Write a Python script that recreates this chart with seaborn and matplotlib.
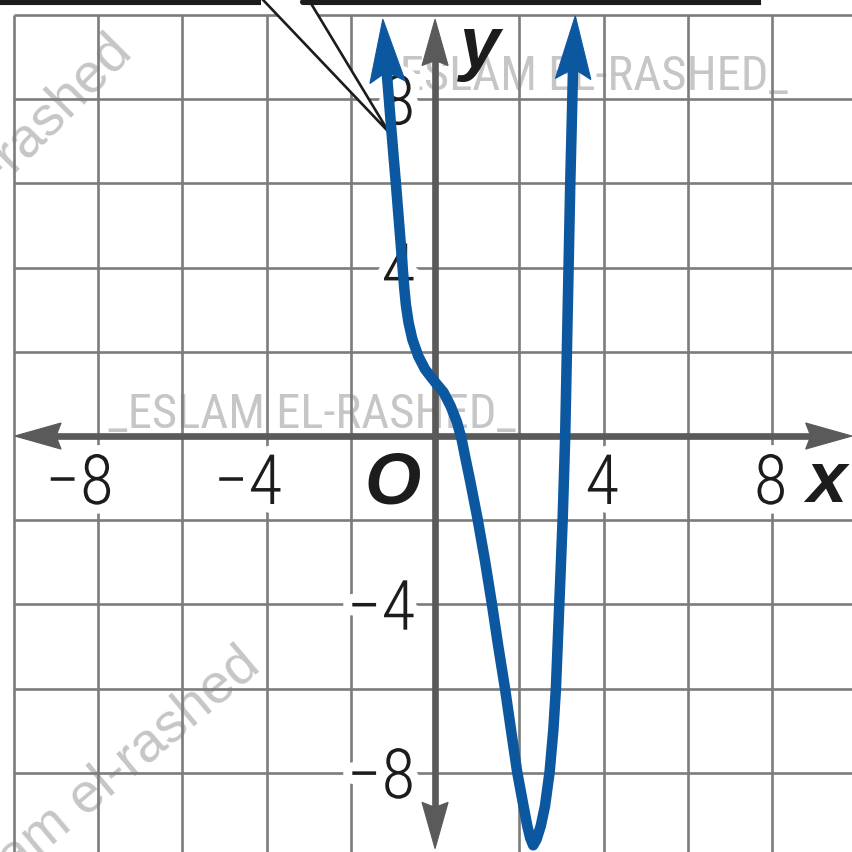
import numpy as np
import pandas as pd
import matplotlib
matplotlib.use("Agg")
import matplotlib.pyplot as plt
import matplotlib.patheffects as pe
from matplotlib import font_manager
from matplotlib.patches import Polygon
import seaborn as sns

# Graph of the polynomial, sampled from the left arrow to the right arrow
curve_x = [-1.17, -1.12, -1.04, -0.99, -0.93, -0.85, -0.77, -0.73, -0.69, -0.63,
           -0.54, -0.40, -0.24, -0.11, 0.00, 0.20, 0.37, 0.52, 0.63, 0.71,
           0.84, 1.01, 1.19, 1.35, 1.50, 1.66, 1.80, 1.95, 2.10, 2.19,
           2.26, 2.33, 2.41, 2.51, 2.61, 2.72, 2.81, 2.87, 2.91, 2.95,
           2.99, 3.03, 3.06, 3.09, 3.13, 3.17, 3.21, 3.25, 3.28]
curve_y = [8.90, 8.30, 7.30, 6.70, 6.00, 5.00, 4.00, 3.50, 3.10, 2.70,
           2.30, 1.90, 1.59, 1.42, 1.28, 1.04, 0.71, 0.33, -0.07, -0.47,
           -1.10, -1.97, -2.99, -3.99, -4.99, -5.99, -6.96, -7.98, -8.79, -9.26,
           -9.55, -9.72, -9.58, -9.26, -8.79, -7.98, -6.96, -5.99, -4.99, -3.99,
           -2.99, -1.97, -1.00, 0.00, 2.00, 4.00, 6.00, 7.60, 8.90]
# arrow tips at the two ends of the graph
tip_x = [-1.24, 3.33]
tip_y = [9.90, 9.98]

x_ticks = [-8, -4, 4, 8]
y_ticks = [8, 4, -4, -8]
grid_vals = [-10, -8, -6, -4, -2, 0, 2, 4, 6, 8, 10]

BLUE = "#0b57a0"
AXIS = "#5a5a5a"
GRID = "#7c7c7c"
INK = "#1c1c1c"
MARK = "#c6c6c6"

sns.set_theme(style="white")
available = {f.name for f in font_manager.fontManager.ttflist}
label_font = next((n for n in ["Liberation Sans Narrow", "Roboto Condensed",
                               "Arial Narrow", "Roboto"] if n in available),
                  "Liberation Sans")
plt.rcParams["font.family"] = [label_font, "DejaVu Sans"]
thin = "light" if label_font.startswith("Roboto") else "normal"

fig = plt.figure(figsize=(8.52, 8.53), dpi=100)
ax = fig.add_axes([0, 0, 1, 1])
XMIN, XMAX, YMIN, YMAX = -10.33, 9.90, -9.88, 10.38
ax.set_xlim(XMIN, XMAX)
ax.set_ylim(YMIN, YMAX)
ax.axis("off")

# background watermarks
for tx, ty in [(-2.92, 0.21), (3.54, 8.24)]:
    ax.text(tx, ty, "_ESLAM EL-RASHED_", ha="center", va="baseline",
            fontsize=35, color=MARK, zorder=1, family=[label_font, "DejaVu Sans"])
for tx, ty, rot in [(-7.15, 9.10, 45), (-4.10, -5.50, 40)]:
    ax.text(tx, ty, "eslam el-rashed", ha="right", va="baseline", rotation=rot,
            rotation_mode="anchor", fontsize=40, color="#c6c6c6", zorder=1,
            family=["Liberation Sans", "DejaVu Sans"])

# square grid, every 2 units
for g in grid_vals:
    if g != 0 and g <= XMAX:
        ax.vlines(g, YMIN, 10, color=GRID, lw=1.9, zorder=2)
    if g != 0 and g >= YMIN:
        ax.hlines(g, -10, XMAX, color=GRID, lw=1.9, zorder=2)


def arrow_head(tip, base, length, half_w, notch, color, z):
    t = np.array(tip, dtype=float)
    d = t - np.array(base, dtype=float)
    d /= np.hypot(*d)
    n = np.array([-d[1], d[0]])
    pts = [t, t - length * d + half_w * n, t - (length - notch) * d,
           t - length * d - half_w * n]
    ax.add_patch(Polygon(pts, closed=True, facecolor=color, edgecolor=color,
                         lw=0.8, joinstyle="miter", zorder=z))


# coordinate axes with arrows
AX_L, AX_W = 1.1, 0.31
ax.plot([-9.98 + AX_L - 0.2, 9.90 - AX_L + 0.2], [0, 0], color=AXIS, lw=4.8,
        solid_capstyle="butt", zorder=4)
ax.plot([0, 0], [-9.80 + AX_L - 0.2, 9.90 - AX_L + 0.2], color=AXIS, lw=4.8,
        solid_capstyle="butt", zorder=4)
arrow_head((-9.98, 0), (0, 0), AX_L, AX_W, 0.12, AXIS, 4)
arrow_head((9.90, 0), (0, 0), AX_L, AX_W, 0.12, AXIS, 4)
arrow_head((0, 9.90), (0, 0), AX_L, AX_W, 0.12, AXIS, 4)
arrow_head((0, -9.80), (0, 0), AX_L, AX_W, 0.12, AXIS, 4)

# tick labels with a white halo that interrupts the grid
halo = [pe.withStroke(linewidth=13, foreground="white")]
for v in x_ticks:
    ax.text(v + 0.37, -1.615, f"{v}".replace("-", "\u2212"), ha="right",
            va="baseline", fontsize=50, color=INK, weight=thin,
            path_effects=halo, zorder=3)
for v in y_ticks:
    ax.text(-0.47, v - 0.6, f"{v}".replace("-", "\u2212"), ha="right",
            va="baseline", fontsize=50, color=INK, weight=thin,
            path_effects=halo, zorder=3)

bold_it = dict(family=["Liberation Sans", "DejaVu Sans"], weight="bold",
               style="italic", color=INK, zorder=3)
ax.text(-1.0, -1.57, "O", ha="center", va="baseline", fontsize=52, **bold_it)
ax.text(9.29, -1.54, "x", ha="center", va="baseline", fontsize=52, **bold_it)
ax.text(1.07, 8.79, "y", ha="center", va="baseline", fontsize=52, **bold_it)

# the graph
df = pd.DataFrame({"x": curve_x, "y": curve_y})
sns.lineplot(data=df, x="x", y="y", sort=False, estimator=None, color=BLUE,
             linewidth=7.6, ax=ax, zorder=5)
for line in ax.lines[-1:]:
    line.set_solid_joinstyle("round")
    line.set_solid_capstyle("butt")
arrow_head((tip_x[0], tip_y[0]), (curve_x[1], curve_y[1]), 1.5, 0.42, 0.25, BLUE, 5)
arrow_head((tip_x[1], tip_y[1]), (curve_x[-2], curve_y[-2]), 1.5, 0.42, 0.25, BLUE, 5)

# callout box edge and pointer at the top
box_y = 10.31
call_tip = (-1.10, 7.22)
call_a = (-4.20, YMAX + 0.1)
call_b = (-3.07, YMAX + 0.1)
ax.add_patch(Polygon([call_a, call_tip, call_b], closed=True, facecolor="white",
                     edgecolor="none", zorder=4.5))
ax.plot([call_a[0], call_tip[0], call_b[0]], [call_a[1], call_tip[1], call_b[1]],
        color=INK, lw=1.9, zorder=4.6, solid_joinstyle="miter")
ax.plot([XMIN - 0.1, call_a[0] + 0.06], [box_y, box_y], color=INK, lw=4.4,
        solid_capstyle="butt", zorder=7)
ax.plot([call_b[0] - 0.06, 7.67, 7.67], [box_y, box_y, YMAX + 0.2], color=INK,
        lw=4.4, solid_joinstyle="miter", zorder=7)

fig.savefig("out.png", dpi=100)
